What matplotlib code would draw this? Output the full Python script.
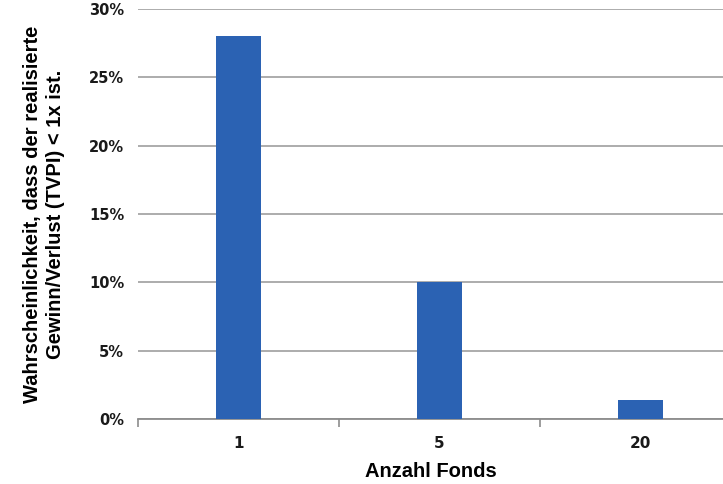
import matplotlib
matplotlib.use("Agg")
import matplotlib.pyplot as plt
from matplotlib.ticker import FuncFormatter, FixedLocator

categories = ["1", "5", "20"]
values = [28.0, 10.0, 1.4]
yticks = [0, 5, 10, 15, 20, 25, 30]

fig = plt.figure(figsize=(7.23, 4.84), dpi=100)
ax = fig.add_axes([138/723, 65/484, 1 - 138/723, (419-9)/484])

x = list(range(len(categories)))
ax.bar(x, values, width=0.22, color="#2b62b3", zorder=3)

ax.set_xlim(-0.5, 2.41)
ax.set_ylim(0, 30)
ax.set_yticks(yticks)
ax.yaxis.set_major_formatter(FuncFormatter(lambda v, p: f"{int(v)}%"))
ax.grid(axis="y", color="#a6a6a6", linewidth=1.3, zorder=0)
ax.set_axisbelow(True)

ax.xaxis.set_major_locator(FixedLocator([-0.5, 0.5, 1.5]))
ax.xaxis.set_major_formatter(FuncFormatter(lambda v, p: ""))
ax.xaxis.set_minor_locator(FixedLocator(x))
ax.set_xticklabels(categories, minor=True)
ax.tick_params(axis="x", which="major", length=6, color="#8c8c8c", width=1.2, direction="out")
ax.tick_params(axis="x", which="minor", length=0, pad=12, labelsize=11, labelcolor="#1a1a1a")
for lbl in ax.get_xticklabels(minor=True):
    lbl.set_fontweight("bold")
ax.tick_params(axis="y", length=0, pad=10, labelsize=10.5, labelcolor="#1a1a1a")
for lbl in ax.get_yticklabels():
    lbl.set_fontweight("bold")

for s in ["top", "right", "left"]:
    ax.spines[s].set_visible(False)
ax.spines["bottom"].set_color("#8c8c8c")
ax.spines["bottom"].set_linewidth(1.3)

ax.set_xlabel("Anzahl Fonds", fontsize=14.5, fontweight="bold", family="Liberation Sans", labelpad=8, color="black")
ax.set_ylabel("Wahrscheinlichkeit, dass der realisierte\nGewinn/Verlust (TVPI) < 1x ist.",
              fontsize=14.5, fontweight="bold", family="Liberation Sans", labelpad=17, linespacing=1.25, color="black")

fig.savefig("out.png", dpi=100)
